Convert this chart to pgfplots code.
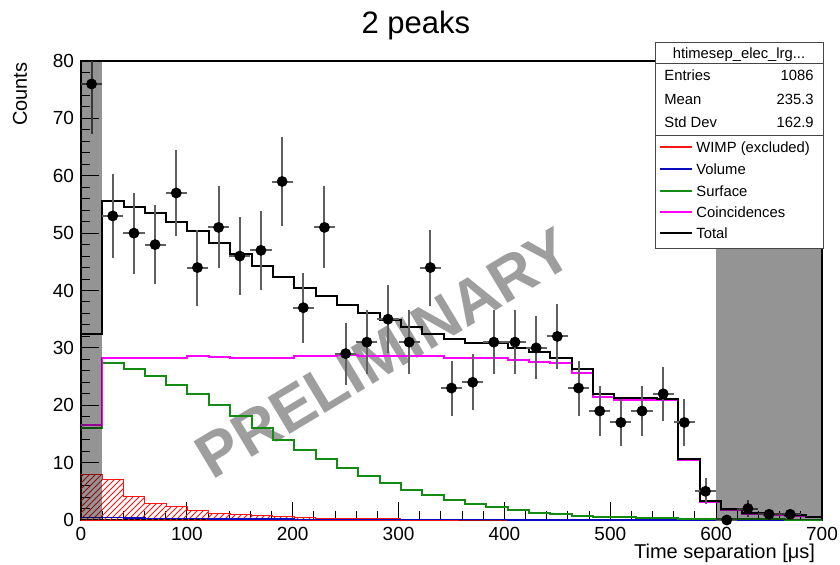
\documentclass[border=0pt]{standalone}
\usepackage{fontspec}
\setmainfont{Liberation Sans}
\usepackage{pgfplots}
\pgfplotsset{compat=1.18}
\usepackage{pgfplotstable}
\usetikzlibrary{patterns}

\definecolor{surfgreen}{RGB}{20,140,20}
\definecolor{volblue}{RGB}{10,10,190}
\definecolor{coinmag}{RGB}{255,0,255}
\definecolor{wimpred}{RGB}{255,20,20}
\definecolor{errgray}{RGB}{95,95,95}
\definecolor{markgray}{RGB}{158,158,158}
\definecolor{boxline}{RGB}{70,70,70}

% measured time separations: bin centre, counts, statistical error
\pgfplotstableread{
x    y   ey
10   76  8.72
30   53  7.28
50   50  7.07
70   48  6.93
90   57  7.55
110  44  6.63
130  51  7.14
150  46  6.78
170  47  6.86
190  59  7.68
210  37  6.08
230  51  7.14
250  29  5.39
270  31  5.57
290  35  5.92
310  31  5.57
330  44  6.63
350  23  4.80
370  24  4.90
390  31  5.57
410  31  5.57
430  30  5.48
450  32  5.66
470  23  4.80
490  19  4.36
510  17  4.12
530  19  4.36
550  22  4.69
570  17  4.12
590  5   2.24
610  0   0
630  2   1.41
650  1   1.00
670  1   1.00
}\datatab

% fitted templates: left bin edge and bin content of each component
\pgfplotstableread{
edge   total  coinc  surf  vol   wimp
0      32.4   16.5   16.0  0.40  8.0
20     55.6   28.3   27.3  0.40  7.0
40.2   54.5   28.2   26.3  0.35  4.1
60.3   53.5   28.3   25.1  0.30  2.9
80.5   51.9   28.3   23.6  0.30  2.3
100.6  50.3   28.5   21.9  0.25  1.6
120.8  48.2   28.4   20.0  0.20  1.2
141.0  46.3   28.3   18.1  0.20  0.9
161.1  44.3   28.3   16.1  0.15  0.8
181.3  42.4   28.3   14.0  0.15  0.6
201.4  40.5   28.5   12.2  0.10  0.4
221.6  39.0   28.6   10.7  0.10  0.35
241.8  37.4   28.7   9.0   0.10  0.3
261.9  36.0   28.6   7.7   0.10  0.25
282.1  34.8   28.5   6.5   0.05  0.2
302.2  33.7   28.6   5.2   0.05  0.15
322.4  32.5   28.5   4.4   0.05  0.1
342.6  31.5   28.2   3.5   0.05  0.1
362.7  30.9   28.2   2.8   0.05  0.05
382.9  30.8   28.3   2.2   0.05  0.05
403.0  29.9   27.9   1.7   0     0
423.2  29.2   27.6   1.3   0     0
443.4  28.2   27.3   1.0   0     0
463.5  26.3   25.7   0.75  0     0
483.7  21.9   21.4   0.6   0     0
503.8  21.3   20.9   0.5   0     0
524.0  21.2   20.9   0.4   0     0
544.2  21.1   20.9   0.3   0     0
564.3  10.7   10.5   0.25  0     0
584.5  3.3    3.1    0.2   0     0
604.6  1.9    1.7    0.15  0     0
624.8  1.2    1.1    0.1   0     0
645.0  1.0    0.9    0.1   0     0
665.1  0.8    0.7    0.05  0     0
685.3  0.6    0.5    0.05  0     0
705.4  0.6    0.5    0.05  0     0
}\modeltab

\begin{document}
\begin{tikzpicture}
\begin{axis}[
  at={(0pt,0pt)}, anchor=south west,
  scale only axis, width=370.5pt, height=229.5pt,
  xmin=0, xmax=700, ymin=0, ymax=80,
  xtick={0,100,...,700}, ytick={0,10,...,80},
  minor x tick num=4, minor y tick num=4,
  tick align=inside, tick pos=left,
  major tick length=9pt, minor tick length=4.5pt,
  every tick/.style={black, line width=0.5pt},
  axis line style={line width=0.6pt},
  ticklabel style={font=\fontsize{9.5}{11}\selectfont},
  /pgf/number format/assume math mode=true,
  scaled ticks=false,
  xlabel={Time separation [μs]}, ylabel={Counts},
  xlabel style={at={(axis description cs:1,-0.0828)}, anchor=base east,
    font=\fontsize{10}{12}\selectfont},
  ylabel style={at={(axis description cs:-0.0823,1.012)}, anchor=east,
    font=\fontsize{10}{12}\selectfont},
  title={2 peaks},
  every axis title shift=0pt,
  title style={at={(axis description cs:0.452,1.061)}, anchor=base,
    font=\fontsize{15.5}{18}\selectfont},
  clip mode=individual,
]
% watermark behind the data
\node[rotate=31, text=markgray, font=\bfseries\fontsize{31}{36}\selectfont]
  at (axis cs:286,29.1) {PRELIMINARY};

% excluded WIMP template, hatched
\addplot[const plot, draw=wimpred, line width=0.5pt,
  pattern=north east lines, pattern color=wimpred]
  table[x=edge, y=wimp] {\modeltab} \closedcycle;
% volume, surface, coincidence and total templates
\addplot[const plot, volblue, line width=0.7pt] table[x=edge, y=vol] {\modeltab};
\addplot[const plot, surfgreen, line width=1pt] table[x=edge, y=surf] {\modeltab};
\addplot[const plot, coinmag, line width=1pt] table[x=edge, y=coinc] {\modeltab};
\addplot[const plot, black, line width=1pt] table[x=edge, y=total] {\modeltab};

% measured counts with errors
\addplot[only marks, mark=*, mark size=2.5pt, black,
  error bars/.cd, y dir=both, y explicit, x dir=both, x fixed=10,
  error mark=none, error bar style={errgray, line width=1pt}]
  table[x=x, y=y, y error=ey] {\datatab};

% excluded time windows
\addplot[draw=none, fill=black, fill opacity=0.42] coordinates {(0,80) (20,80)} \closedcycle;
\addplot[draw=none, fill=black, fill opacity=0.42] coordinates {(600,80) (700,80)} \closedcycle;
\end{axis}

% statistics box and legend
\begin{scope}[font=\fontsize{7.4}{9}\selectfont]
\fill[white] (287pt,136pt) rectangle (371pt,238.6pt);
\draw[boxline, line width=0.5pt] (287pt,136pt) rectangle (371pt,238.6pt);
\draw[boxline, line width=0.5pt] (287pt,228.3pt) -- (371pt,228.3pt);
\draw[boxline, line width=0.5pt] (287pt,192.5pt) -- (371pt,192.5pt);
\node[anchor=base, inner sep=0pt] at (329pt,230.6pt) {htimesep\_elec\_lrg...};
\node[anchor=base west, inner sep=0pt] at (291.5pt,219.6pt) {Entries};
\node[anchor=base east, inner sep=0pt] at (366.5pt,219.6pt) {1086};
\node[anchor=base west, inner sep=0pt] at (291.5pt,207.8pt) {Mean};
\node[anchor=base east, inner sep=0pt] at (366.5pt,207.8pt) {235.3};
\node[anchor=base west, inner sep=0pt] at (291.5pt,196.3pt) {Std Dev};
\node[anchor=base east, inner sep=0pt] at (366.5pt,196.3pt) {162.9};
\draw[wimpred, line width=1pt] (289.5pt,186.4pt) -- (305.5pt,186.4pt);
\node[anchor=base west, inner sep=0pt] at (307.5pt,183.8pt) {WIMP (excluded)};
\draw[volblue, line width=1pt] (289.5pt,175.4pt) -- (305.5pt,175.4pt);
\node[anchor=base west, inner sep=0pt] at (307.5pt,172.8pt) {Volume};
\draw[surfgreen, line width=1pt] (289.5pt,164.3pt) -- (305.5pt,164.3pt);
\node[anchor=base west, inner sep=0pt] at (307.5pt,161.7pt) {Surface};
\draw[coinmag, line width=1pt] (289.5pt,153.8pt) -- (305.5pt,153.8pt);
\node[anchor=base west, inner sep=0pt] at (307.5pt,151.2pt) {Coincidences};
\draw[black, line width=1pt] (289.5pt,143.4pt) -- (305.5pt,143.4pt);
\node[anchor=base west, inner sep=0pt] at (307.5pt,140.8pt) {Total};
\end{scope}

\pgfresetboundingbox
\path[use as bounding box] (-40.5pt,-22pt) rectangle (379.5pt,260pt);
\end{tikzpicture}
\end{document}
